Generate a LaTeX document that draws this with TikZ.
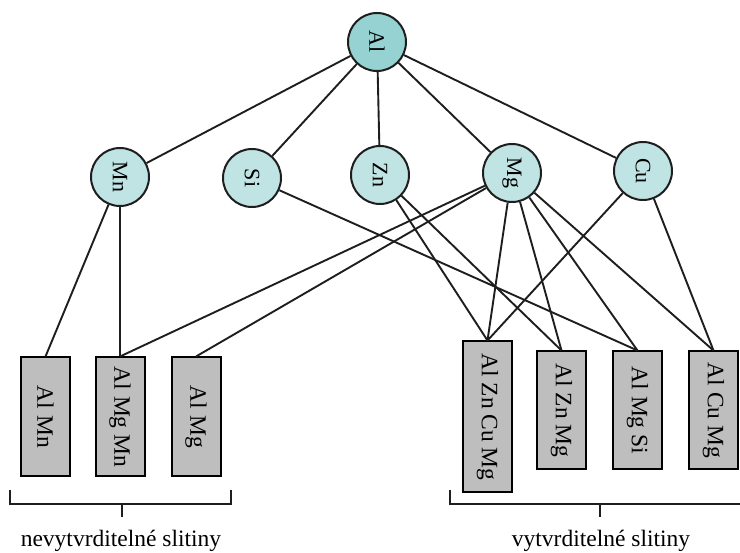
\documentclass[tikz,border=0pt]{standalone}
\usepackage{fontspec}
\setmainfont{Liberation Serif}
\definecolor{tealdark}{RGB}{150,210,210}
\definecolor{teallight}{RGB}{192,227,227}
\definecolor{boxgray}{RGB}{190,190,190}
\definecolor{edgecol}{RGB}{30,30,30}
\tikzset{
  elem/.style={circle, draw=edgecol, line width=2pt, fill=teallight, minimum size=58pt, inner sep=0pt, font=\fontsize{22}{24}\selectfont},
  topelem/.style={elem, fill=tealdark},
  alloy/.style={rectangle, draw=black, line width=2pt, fill=boxgray, minimum width=49pt, inner sep=0pt, font=\fontsize{23.5}{25}\selectfont},
  link/.style={draw=edgecol, line width=1.9pt},
  brace/.style={draw=edgecol, line width=1.8pt},
  grouplabel/.style={font=\fontsize{23.5}{25}\selectfont, inner sep=0pt}
}
\begin{document}
\begin{tikzpicture}[x=1pt,y=-1pt]
\useasboundingbox (0,0) rectangle (740,553);
% element nodes
\node[topelem] (Al) at (377,42) {\rotatebox{-90}{Al}};
\node[elem] (Mn) at (120,177) {\rotatebox{-90}{Mn}};
\node[elem] (Si) at (252,178) {\rotatebox{-90}{Si}};
\node[elem] (Zn) at (380,175) {\rotatebox{-90}{Zn}};
\node[elem] (Mg) at (512,173) {\rotatebox{-90}{Mg}};
\node[elem] (Cu) at (643,171) {\rotatebox{-90}{Cu}};
% alloy boxes
\node[alloy, minimum height=119pt] (AlMn) at (45.5,417) {\rotatebox{-90}{Al Mn}};
\node[alloy, minimum height=119pt] (AlMgMn) at (120,417) {\rotatebox{-90}{Al Mg Mn}};
\node[alloy, minimum height=119pt] (AlMg) at (196,417) {\rotatebox{-90}{Al Mg}};
\node[alloy, minimum height=151pt] (AlZnCuMg) at (487.5,417) {\rotatebox{-90}{Al Zn Cu Mg}};
\node[alloy, minimum height=118pt] (AlZnMg) at (561.5,410.5) {\rotatebox{-90}{Al Zn Mg}};
\node[alloy, minimum height=118pt] (AlMgSi) at (637.5,410.5) {\rotatebox{-90}{Al Mg Si}};
\node[alloy, minimum height=118pt] (AlCuMg) at (713.5,410.5) {\rotatebox{-90}{Al Cu Mg}};
% links from Al
\foreach \e in {Mn,Si,Zn,Mg,Cu} \draw[link] (Al) -- (\e);
% links to alloys
\draw[link] (Mn) -- (AlMn.north);
\draw[link] (Mn) -- (AlMgMn.north);
\draw[link] (Mg) -- (AlMgMn.north);
\draw[link] (Mg) -- (AlMg.north);
\draw[link] (Si) -- (AlMgSi.north);
\draw[link] (Zn) -- (AlZnCuMg.north);
\draw[link] (Zn) -- (AlZnMg.north);
\draw[link] (Mg) -- (AlZnCuMg.north);
\draw[link] (Mg) -- (AlZnMg.north);
\draw[link] (Mg) -- (AlMgSi.north);
\draw[link] (Mg) -- (AlCuMg.north);
\draw[link] (Cu) -- (AlZnCuMg.north);
\draw[link] (Cu) -- (AlCuMg.north);
% brackets
\coordinate (lb1) at (10,490);
\coordinate (lb2) at (10,504);
\coordinate (lb3) at (231,504);
\coordinate (lb4) at (231,490);
\coordinate (lm1) at (122,504);
\coordinate (lm2) at (122,517);
\draw[brace] (lb1) -- (lb2) -- (lb3) -- (lb4);
\draw[brace] (lm1) -- (lm2);
\coordinate (rb1) at (450,490);
\coordinate (rb2) at (450,504);
\coordinate (rb3) at (742,504);
\coordinate (rm1) at (600,504);
\coordinate (rm2) at (600,517);
\draw[brace] (rb1) -- (rb2) -- (rb3);
\draw[brace] (rm1) -- (rm2);
\node[grouplabel] (nl) at (121,541) {nevytvrditelné slitiny};
\node[grouplabel] (vl) at (601,541) {vytvrditelné slitiny};
\end{tikzpicture}
\end{document}
